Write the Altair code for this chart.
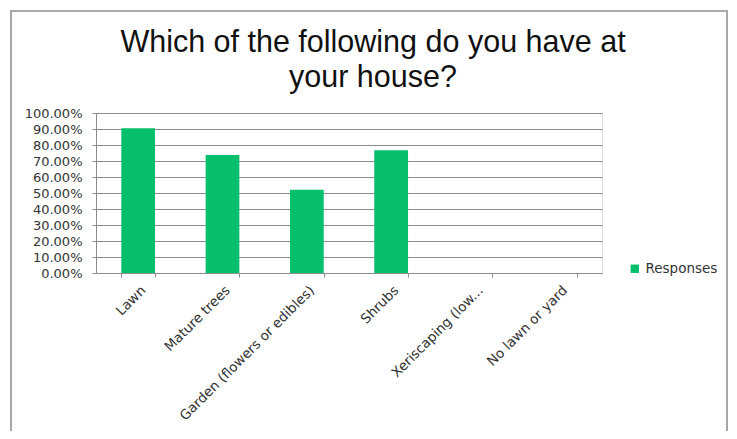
import altair as alt
import pandas as pd

categories = ["Lawn", "Mature trees", "Garden (flowers or edibles)", "Shrubs",
              "Xeriscaping (low...", "No lawn or yard"]
responses = [0.904, 0.737, 0.520, 0.767, 0.0, 0.0]
series = ["Responses"] * len(categories)

df = pd.DataFrame({"category": categories, "value": responses, "series": series})

GREEN = "#06BF6C"
FONT = "DejaVu Sans"

bars = alt.Chart(df).mark_bar(color=GREEN).encode(
    x=alt.X("category:N", sort=categories, title=None,
            scale=alt.Scale(paddingInner=0.6, paddingOuter=0.3),
            axis=alt.Axis(labelAngle=-45, labelFont=FONT, labelFontSize=13.5,
                          labelColor="#333333", labelPadding=6,
                          tickBand="extent", tickColor="#8c8c8c", tickSize=4,
                          domainColor="#8c8c8c", grid=False, labelLimit=300)),
    y=alt.Y("value:Q", title=None,
            scale=alt.Scale(domain=[0, 1]),
            axis=alt.Axis(format=".2%", values=[i / 10 for i in range(11)],
                          labelFont=FONT, labelFontSize=13, labelColor="#333333",
                          labelPadding=10, tickSize=4, tickColor="#8c8c8c",
                          domainColor="#8c8c8c", gridColor="#8c8c8c",
                          gridOpacity=1)),
    fill=alt.Fill("series:N", title=None,
                  scale=alt.Scale(range=[GREEN]),
                  legend=alt.Legend(orient="none", legendX=532, legendY=149,
                                    symbolType="square", symbolSize=70,
                                    labelFont=FONT, labelFontSize=13.5,
                                    labelColor="#333333")),
)

frame = alt.Chart(df).mark_rect(fill=None, stroke="#a8a8a8", strokeWidth=1.5).encode(
    x=alt.value(-85), x2=alt.value(631), y=alt.value(-102), y2=alt.value(340)
)

chart = alt.layer(bars, frame).properties(
    width=506, height=160,
    autosize=alt.AutoSizeParams(type="none"),
    padding={"left": 88, "top": 105, "right": 127, "bottom": 158},
    title=alt.Title(["Which of the following do you have at", "your house?"],
                    font="Liberation Sans", fontSize=30.5, fontWeight="normal",
                    color="#111111", lineHeight=35, anchor="middle",
                    frame="group", dx=24, offset=-83),
).configure_view(stroke=None).configure(background="white")

chart.save("out.html", embed_options={"renderer": "svg", "actions": False})
